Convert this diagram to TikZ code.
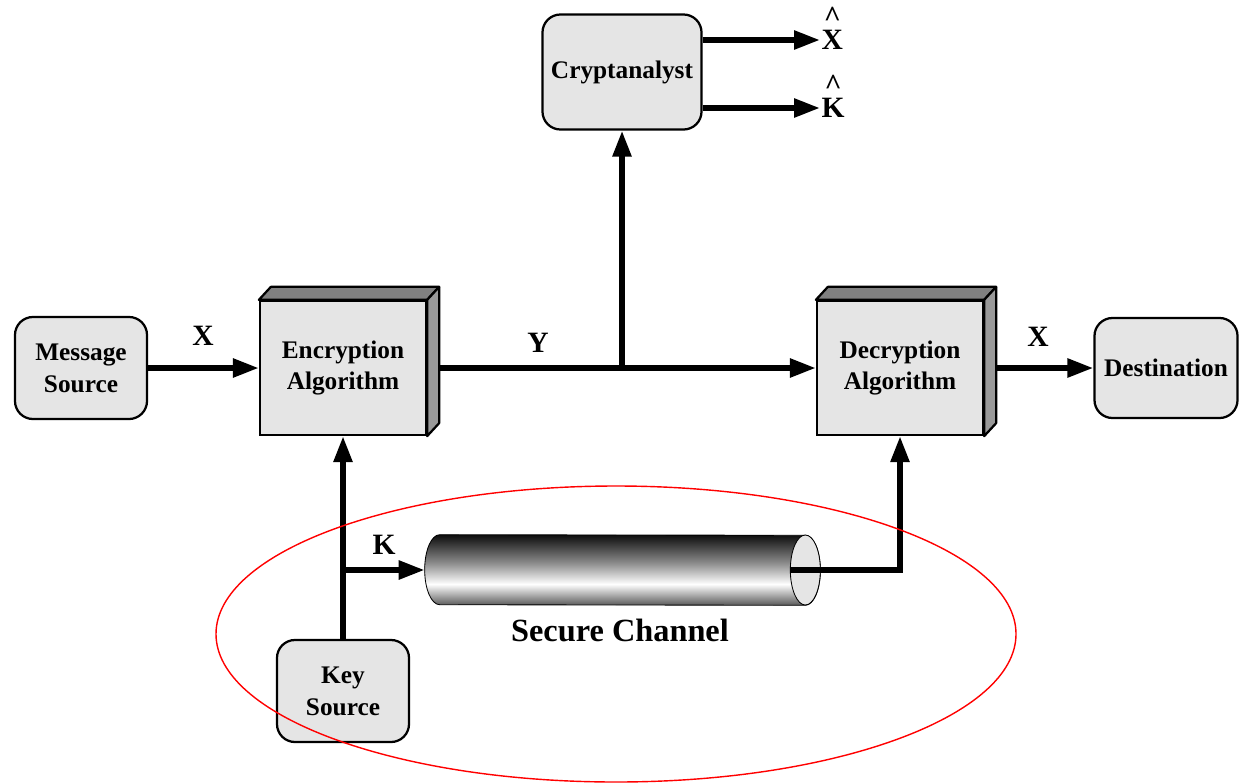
\documentclass[tikz,border=0pt]{standalone}
\usepackage{fontspec}
\setmainfont{Liberation Serif}
\usetikzlibrary{arrows.meta,calc}

\pgfdeclareverticalshading{pipeshade}{100bp}{color(0bp)=(black!65); color(25bp)=(black!65); color(40bp)=(white); color(55bp)=(black!45); color(75bp)=(black!95); color(100bp)=(black!95)}

\begin{document}
\begin{tikzpicture}[x=0.025cm, y=0.025cm,
    rbox/.style={rounded corners=0.45cm, draw, line width=1.6pt, fill=black!10, align=center, inner sep=0pt, font=\fontsize{18}{22.7}\selectfont\bfseries},
    abox/.style={draw, line width=1.6pt, fill=black!10, align=center, inner sep=0pt, minimum width=4.15cm, minimum height=3.35cm, font=\fontsize{18}{22.7}\selectfont\bfseries},
    arr/.style={line width=4pt, -{Triangle[length=0.65cm, width=0.45cm]}},
    lbl/.style={inner sep=1pt, font=\fontsize{21}{25}\selectfont\bfseries},
    hatlbl/.style={lbl, label={[lbl, inner sep=0pt, yshift=1pt]above:\textasciicircum}},
    boxtop/.style={draw, line width=1.6pt, fill=black!50, line join=round},
    boxside/.style={draw, line width=1.6pt, fill=black!40, line join=round}]
    \useasboundingbox (0,0) rectangle (1241,-783);

    % Draw nodes
    \node[rbox, minimum width=3.3cm, minimum height=2.55cm] (msg) at (81,-368) {Message\\Source};
    \node[abox] (enc) at (343,-368) {Encryption\\Algorithm};
    \node[abox] (dec) at (900,-368) {Decryption\\Algorithm};
    \node[rbox, minimum width=3.575cm, minimum height=2.5cm] (dest) at (1166,-368) {Destination};
    \node[rbox, minimum width=3.975cm, minimum height=2.875cm] (cry) at (622,-72) {Cryptanalyst};
    \node[rbox, minimum width=3.3cm, minimum height=2.55cm] (key) at (343,-691) {Key\\Source};
    \node[hatlbl, anchor=west] (xhat) at (820,-40) {X};
    \node[hatlbl, anchor=west] (khat) at (820,-108) {K};
    \node[inner sep=0pt, minimum width=9.875cm, minimum height=1.75cm] (pipe) at (622.5,-570) {};

    % Draw the pipe
    \shadedraw[shading=pipeshade, line width=0.6pt] ($(pipe.north west)+(15,0)$) arc[start angle=90, end angle=270, x radius=15, y radius=35] -- ($(pipe.south east)+(-15,0)$) arc[start angle=-90, end angle=90, x radius=15, y radius=35] -- cycle;
    \filldraw[fill=black!10, line width=0.6pt] ($(pipe.east)+(-15,0)$) ellipse[x radius=15, y radius=35];

    % Draw connections
    \draw[arr] (msg) -- (enc);
    \draw[arr] (enc) -- (dec);
    \draw[arr] (dec) -- (dest);
    \coordinate (yj) at (cry.south |- enc.east);
    \draw[arr] (yj) -- (cry.south);
    \draw[arr] (cry.east |- xhat) -- (xhat);
    \draw[arr] (cry.east |- khat) -- (khat);
    \draw[arr] (key) -- (enc);
    \coordinate (kbr) at (key.north |- pipe.west);
    \draw[arr] (kbr) -- (pipe.west);
    \coordinate (pout) at ($(pipe.east)+(-30,0)$);
    \draw[arr] (pout) -| (dec.south);

    % Box depth
    \foreach \b in {enc,dec} {
        \draw[boxtop] (\b.north west) -- ++(12,13) -- ($(\b.north east)+(12,13)$) -- (\b.north east) -- cycle;
        \draw[boxside] (\b.north east) -- ++(12,13) -- ($(\b.south east)+(12,13)$) -- (\b.south east) -- cycle;
    }

    % Labels
    \node[lbl] (lx) at (203,-336) {X};
    \node[lbl] (ly) at (538,-343) {Y};
    \node[lbl] (lx2) at (1038,-337) {X};
    \node[lbl] (lk) at (384,-545) {K};
    \node[inner sep=1pt, font=\fontsize{23}{27}\selectfont\bfseries] (sc) at (620,-630) {Secure Channel};

    % Red ellipse
    \draw[red, line width=1pt] (616,-634) ellipse[x radius=400, y radius=148];
\end{tikzpicture}
\end{document}
